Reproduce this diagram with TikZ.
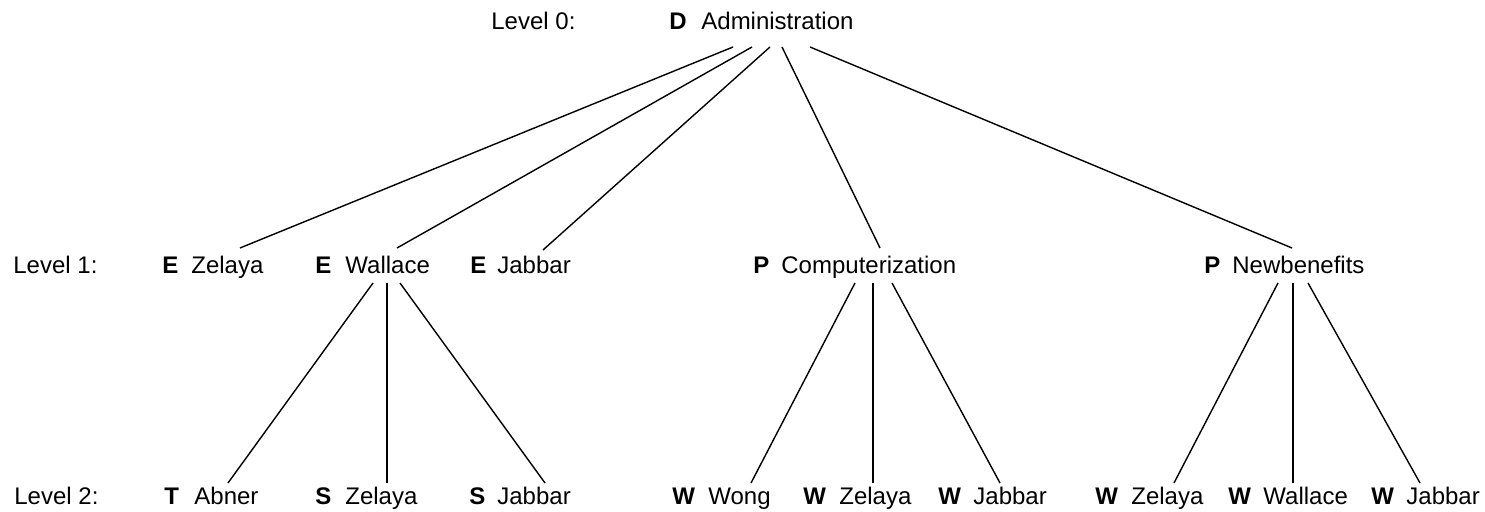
\documentclass[tikz,border=0pt]{standalone}
\usepackage{fontspec}
\setmainfont{Liberation Sans}
\usetikzlibrary{calc}
\tikzstyle{entry}=[anchor=base west,inner sep=0pt,font=\fontsize{12}{14}\selectfont]
\tikzstyle{tag}=[entry,font=\fontsize{12}{14}\selectfont\bfseries]
\tikzstyle{link}=[line width=0.7pt]

\begin{document}
\begin{tikzpicture}[x=0.5pt,y=-0.5pt]
    \useasboundingbox (0,0) rectangle (1485,512);
% level 0
    \node[entry] (lv0) at (491,30)  {Level 0:};
    \node[tag]   (td)  at (669,30)  {D};
    \node[entry] (adm) at (701,30)  {Administration};
% level 1
    \node[entry] (lv1)  at (13,274)   {Level 1:};
    \node[tag]   (te1)  at (162,274)  {E};
    \node[entry] (ezel) at (191,274)  {Zelaya};
    \node[tag]   (te2)  at (315,274)  {E};
    \node[entry] (ewal) at (345,274)  {Wallace};
    \node[tag]   (te3)  at (470,274)  {E};
    \node[entry] (ejab) at (497,274)  {Jabbar};
    \node[tag]   (tp1)  at (753,274)  {P};
    \node[entry] (pcom) at (781,274)  {Computerization};
    \node[tag]   (tp2)  at (1204,274) {P};
    \node[entry] (pnew) at (1232,274) {Newbenefits};
% level 2
    \node[entry] (lv2)   at (14,505)   {Level 2:};
    \node[tag]   (tt)    at (164,505)  {T};
    \node[entry] (tabn)  at (194,505)  {Abner};
    \node[tag]   (ts1)   at (315,505)  {S};
    \node[entry] (szel)  at (345,505)  {Zelaya};
    \node[tag]   (ts2)   at (469,505)  {S};
    \node[entry] (sjab)  at (497,505)  {Jabbar};
    \node[tag]   (tw1)   at (672,505)  {W};
    \node[entry] (wwon)  at (708,505)  {Wong};
    \node[tag]   (tw2)   at (803,505)  {W};
    \node[entry] (wzel)  at (839,505)  {Zelaya};
    \node[tag]   (tw3)   at (938,505)  {W};
    \node[entry] (wjab)  at (973,505)  {Jabbar};
    \node[tag]   (tw4)   at (1095,505) {W};
    \node[entry] (wzel2) at (1131,505) {Zelaya};
    \node[tag]   (tw5)   at (1228,505) {W};
    \node[entry] (wwal2) at (1263,505) {Wallace};
    \node[tag]   (tw6)   at (1371,505) {W};
    \node[entry] (wjab2) at (1406,505) {Jabbar};
% edges level 0 -> 1
    \draw[link] ($(adm.base west)+(32,17)$)  -- ($(ezel.base west)+(49,-26)$);
    \draw[link] ($(adm.base west)+(51,17)$)  -- ($(ewal.base west)+(52,-26)$);
    \draw[link] ($(adm.base west)+(69,17)$)  -- ($(ejab.base west)+(46,-24)$);
    \draw[link] ($(adm.base west)+(81,17)$)  -- ($(pcom.base west)+(99,-26)$);
    \draw[link] ($(adm.base west)+(109,17)$) -- ($(pnew.base west)+(60,-26)$);
% edges level 1 -> 2
    \draw[link] ($(ewal.base west)+(28,9)$)  -- ($(tabn.base west)+(34,-22)$);
    \draw[link] ($(ewal.base west)+(42,9)$)  -- ($(szel.base west)+(42,-22)$);
    \draw[link] ($(ewal.base west)+(55,9)$)  -- ($(sjab.base west)+(48,-22)$);
    \draw[link] ($(pcom.base west)+(74,9)$)  -- ($(wwon.base west)+(43,-22)$);
    \draw[link] ($(pcom.base west)+(92,9)$)  -- ($(wzel.base west)+(34,-22)$);
    \draw[link] ($(pcom.base west)+(111,9)$) -- ($(wjab.base west)+(27,-22)$);
    \draw[link] ($(pnew.base west)+(46,9)$)  -- ($(wzel2.base west)+(43,-22)$);
    \draw[link] ($(pnew.base west)+(61,9)$)  -- ($(wwal2.base west)+(30,-22)$);
    \draw[link] ($(pnew.base west)+(76,9)$)  -- ($(wjab2.base west)+(14,-22)$);
\end{tikzpicture}
\end{document}
